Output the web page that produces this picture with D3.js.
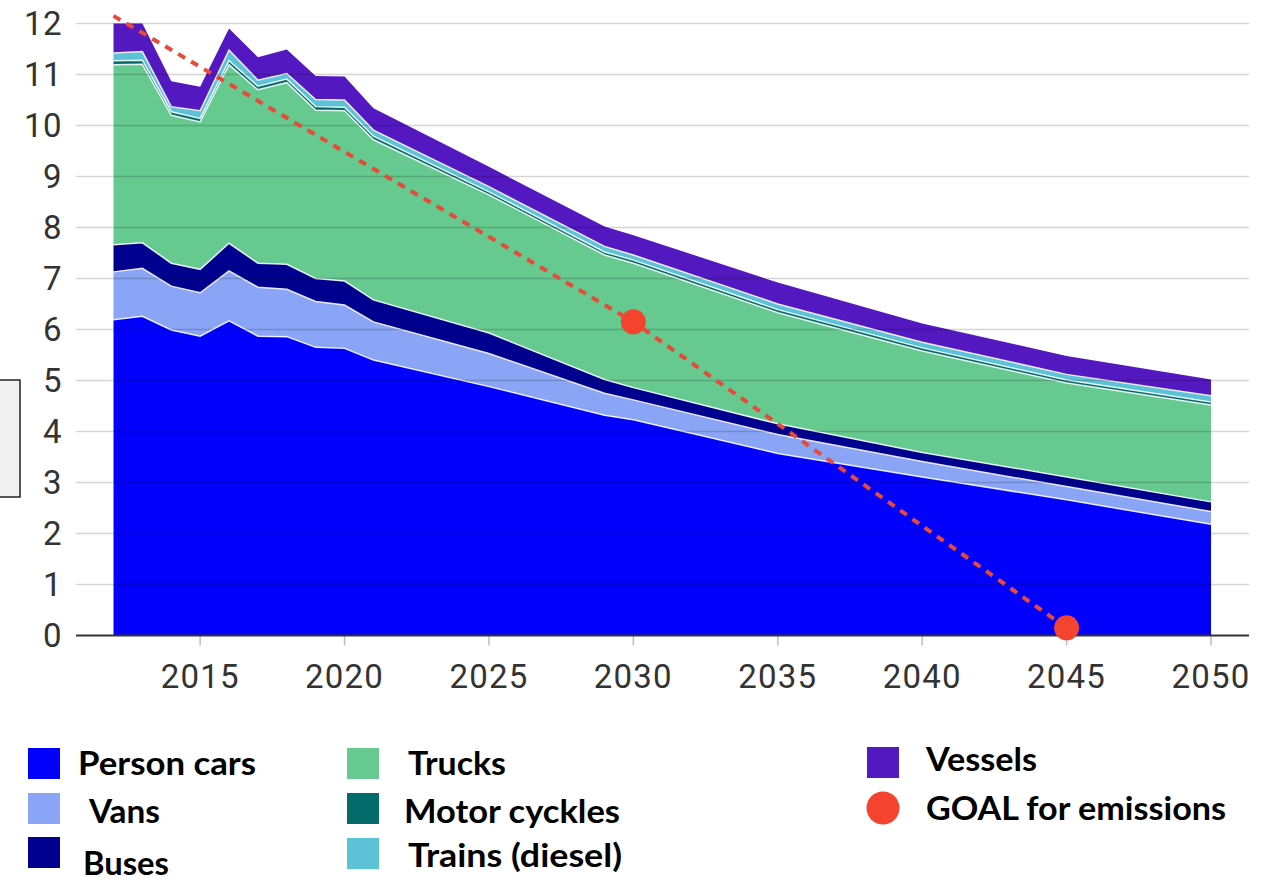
<!DOCTYPE html>
<html>
<head>
<meta charset="utf-8">
<script src="https://cdn.jsdelivr.net/npm/d3@7"></script>
<style>
  html, body { margin: 0; padding: 0; background: #ffffff; }
  svg { display: block; }
</style>
</head>
<body>
<svg id="chart" width="1272" height="884"></svg>
<script>
// ---- data ----
const years       = [2012, 2013, 2014, 2015, 2016, 2017, 2018, 2019, 2020, 2021, 2025, 2029, 2030, 2035, 2040, 2045, 2050];
const personCars  = [6.19, 6.26, 5.99, 5.87, 6.17, 5.87, 5.86, 5.65, 5.63, 5.40, 4.88, 4.32, 4.23, 3.57, 3.11, 2.66, 2.18];
const vans        = [0.94, 0.94, 0.86, 0.85, 0.98, 0.96, 0.93, 0.90, 0.85, 0.75, 0.65, 0.43, 0.39, 0.37, 0.30, 0.26, 0.25];
const buses       = [0.53, 0.50, 0.45, 0.46, 0.54, 0.47, 0.49, 0.45, 0.47, 0.43, 0.40, 0.27, 0.24, 0.21, 0.18, 0.19, 0.19];
const trucks      = [3.53, 3.50, 2.90, 2.89, 3.50, 3.40, 3.56, 3.30, 3.34, 3.14, 2.71, 2.44, 2.44, 2.18, 1.99, 1.84, 1.90];
const motorCycles = [0.08, 0.08, 0.07, 0.07, 0.08, 0.07, 0.07, 0.07, 0.07, 0.07, 0.06, 0.06, 0.06, 0.06, 0.06, 0.06, 0.06];
const trains      = [0.15, 0.17, 0.10, 0.15, 0.21, 0.12, 0.11, 0.14, 0.14, 0.12, 0.10, 0.11, 0.10, 0.11, 0.11, 0.11, 0.12];
const vessels     = [0.58, 0.55, 0.50, 0.47, 0.42, 0.45, 0.47, 0.46, 0.46, 0.43, 0.39, 0.39, 0.39, 0.42, 0.37, 0.36, 0.32];

const goalYears   = [2012, 2030, 2045];
const goalValues  = [12.15, 6.15, 0.15];

const yTicks = [0, 1, 2, 3, 4, 5, 6, 7, 8, 9, 10, 11, 12];
const xTicks = [2015, 2020, 2025, 2030, 2035, 2040, 2045, 2050];

const seriesNames  = ["Person cars", "Vans", "Buses", "Trucks", "Motor cyckles", "Trains (diesel)", "Vessels"];
const seriesValues = [personCars, vans, buses, trucks, motorCycles, trains, vessels];
const seriesColors = ["#0000fb", "#8aa5f5", "#00008e", "#66c98f", "#046b6b", "#5cc2d6", "#5318bf"];
const goalColor = "#f4432f";
const goalName = "GOAL for emissions";

// ---- chart ----
const svg = d3.select("#chart");
const x = d3.scaleLinear().domain([2012, 2050]).range([113.5, 1211]);
const y = d3.scaleLinear().domain([0, 12]).range([635.5, 23.5]);
const gridX0 = 76, gridX1 = 1249;

// stray box at left edge of the reference
svg.append("rect").attr("x", -2).attr("y", 380).attr("width", 22).attr("height", 117)
  .attr("fill", "#f0f0f0").attr("stroke", "#222").attr("stroke-width", 1.5);

// table for stacking
const table = years.map((yr, i) => {
  const row = { year: yr };
  seriesNames.forEach((n, k) => { row[n] = seriesValues[k][i]; });
  return row;
});
const stacked = d3.stack().keys(seriesNames)(table);

const area = d3.area()
  .x(d => x(d.data.year))
  .y0(d => y(d[0]))
  .y1(d => y(d[1]));

svg.append("g").selectAll("path").data(stacked).join("path")
  .attr("d", area)
  .attr("fill", (d, i) => seriesColors[i]);

// white separators between layers
const topLine = d3.line().x(d => x(d.data.year)).y(d => y(d[1]));
svg.append("g").selectAll("path").data(stacked.slice(0, seriesNames.length - 1)).join("path")
  .attr("d", topLine)
  .attr("fill", "none")
  .attr("stroke", "rgba(255,255,255,0.85)")
  .attr("stroke-width", 1.5);

// horizontal grid lines (drawn over the areas, translucent)
svg.append("g").selectAll("line").data(yTicks.filter(t => t > 0)).join("line")
  .attr("x1", gridX0).attr("x2", gridX1)
  .attr("y1", d => y(d)).attr("y2", d => y(d))
  .attr("stroke", "rgba(0,0,0,0.17)")
  .attr("stroke-width", 1.6);

// x ticks
svg.append("g").selectAll("line").data(xTicks).join("line")
  .attr("x1", d => x(d)).attr("x2", d => x(d))
  .attr("y1", y(0)).attr("y2", y(0) + 10)
  .attr("stroke", "#bdbdbd").attr("stroke-width", 1.5);

// baseline
svg.append("line").attr("x1", gridX0).attr("x2", gridX1)
  .attr("y1", y(0)).attr("y2", y(0))
  .attr("stroke", "#333").attr("stroke-width", 2.2);

// y labels
svg.append("g").selectAll("text").data(yTicks).join("text")
  .attr("x", 62).attr("y", d => y(d)).attr("dy", "0.36em")
  .attr("text-anchor", "end")
  .attr("font-family", "Roboto, 'DejaVu Sans', sans-serif")
  .attr("font-size", 33).attr("fill", "#333")
  .attr("letter-spacing", 0.5)
  .text(d => d);

// x labels
svg.append("g").selectAll("text").data(xTicks).join("text")
  .attr("x", d => x(d)).attr("y", 688)
  .attr("text-anchor", "middle")
  .attr("font-family", "Roboto, 'DejaVu Sans', sans-serif")
  .attr("font-size", 33).attr("fill", "#333")
  .attr("letter-spacing", 1.2)
  .text(d => d);

// goal line + dots
const goalData = goalYears.map((yr, i) => ({ year: yr, value: goalValues[i] }));
svg.append("path")
  .datum(goalData)
  .attr("d", d3.line().x(d => x(d.year)).y(d => y(d.value)))
  .attr("fill", "none")
  .attr("stroke", "#e84a3a")
  .attr("stroke-width", 4)
  .attr("stroke-dasharray", "8,7");
svg.append("g").selectAll("circle").data(goalData.slice(1)).join("circle")
  .attr("cx", d => x(d.year)).attr("cy", d => y(d.value))
  .attr("r", 12.5).attr("fill", goalColor);

// ---- legend ----
const legendItems = [
  { name: seriesNames[0], color: seriesColors[0], sx: 28,  sy: 748, tx: 78,  ty: 775, w: 178 },
  { name: seriesNames[1], color: seriesColors[1], sx: 28,  sy: 793, tx: 89,  ty: 823, w: 71 },
  { name: seriesNames[2], color: seriesColors[2], sx: 28,  sy: 837, tx: 83,  ty: 875, w: 86 },
  { name: seriesNames[3], color: seriesColors[3], sx: 347, sy: 748, tx: 408, ty: 775, w: 98 },
  { name: seriesNames[4], color: seriesColors[4], sx: 347, sy: 793, tx: 404, ty: 823, w: 216 },
  { name: seriesNames[5], color: seriesColors[5], sx: 347, sy: 838, tx: 408, ty: 867, w: 214 },
  { name: seriesNames[6], color: seriesColors[6], sx: 867, sy: 747, tx: 926, ty: 771, w: 111 }
];
const lg = svg.append("g");
lg.selectAll("rect").data(legendItems).join("rect")
  .attr("x", d => d.sx).attr("y", d => d.sy)
  .attr("width", 32).attr("height", 31)
  .attr("fill", d => d.color);
lg.selectAll("text").data(legendItems).join("text")
  .attr("x", d => d.tx).attr("y", d => d.ty)
  .attr("font-family", "Lato, 'Open Sans', sans-serif")
  .attr("font-weight", 700).attr("font-size", 32).attr("fill", "#000")
  .attr("textLength", d => d.w).attr("lengthAdjust", "spacingAndGlyphs")
  .text(d => d.name);
lg.append("circle").attr("cx", 883).attr("cy", 808).attr("r", 16.5).attr("fill", goalColor);
lg.append("text").attr("x", 926).attr("y", 820)
  .attr("font-family", "Lato, 'Open Sans', sans-serif")
  .attr("font-weight", 700).attr("font-size", 32).attr("fill", "#000")
  .attr("textLength", 300).attr("lengthAdjust", "spacingAndGlyphs")
  .text(goalName);
</script>
</body>
</html>
